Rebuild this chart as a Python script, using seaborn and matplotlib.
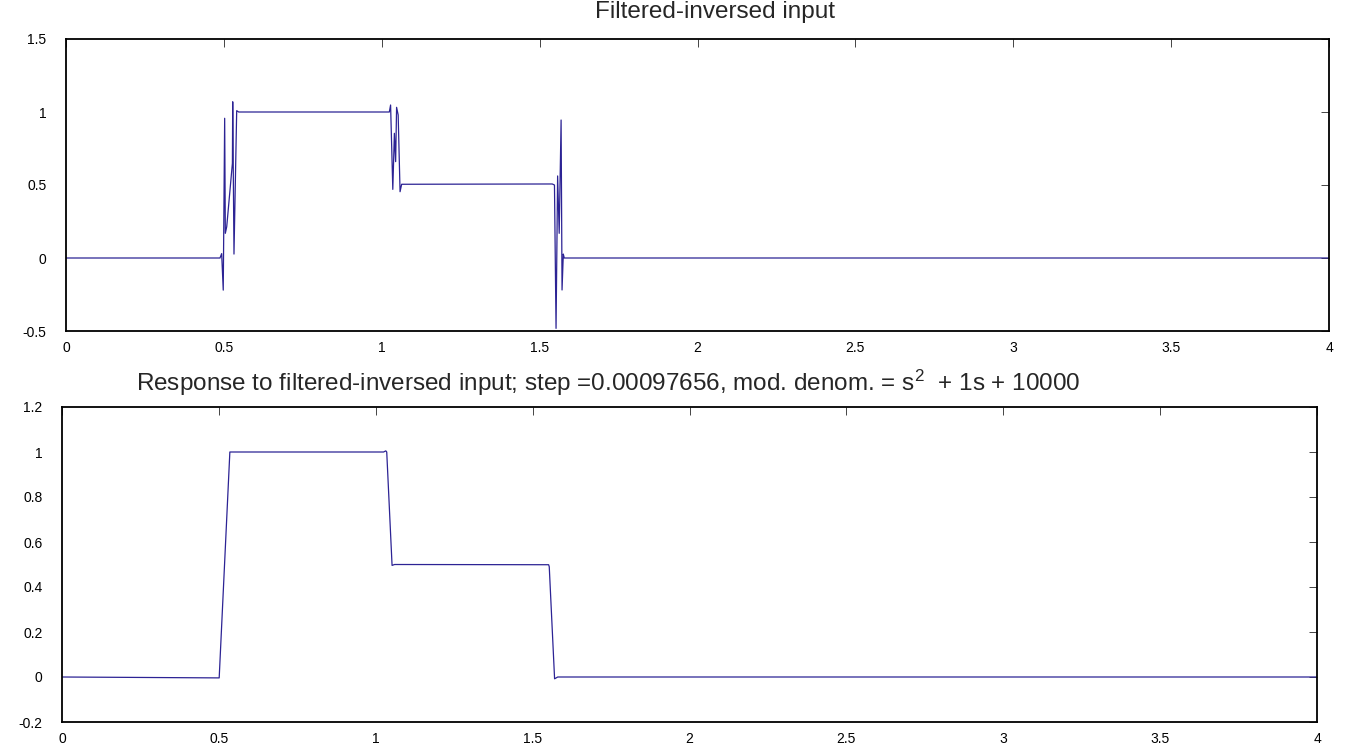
import numpy as np
import pandas as pd
import matplotlib
matplotlib.use('Agg')
import matplotlib.pyplot as plt
import seaborn as sns

# Top panel: filtered-inversed input (breakpoints)
t_input = [0.0, 0.4877, 0.493, 0.498, 0.5025, 0.5046, 0.509, 0.527, 0.528, 0.532,
           0.5406, 0.547, 1.024, 1.028, 1.035, 1.040, 1.044, 1.047, 1.052, 1.058,
           1.063, 1.540, 1.547, 1.552, 1.557, 1.562, 1.568, 1.571, 1.575, 1.578, 4.0]
u_input = [0.0, 0.0, 0.03, -0.22, 0.957, 0.169, 0.214, 0.649, 1.07, 0.027,
           1.009, 1.0, 1.0, 1.048, 0.47, 0.854, 0.66, 1.032, 0.98, 0.454,
           0.505, 0.507, 0.5, -0.482, 0.562, 0.169, 0.945, -0.219, 0.027, 0.0, 0.0]

# Bottom panel: response of the system
t_resp = [0.0, 0.501, 0.535, 1.025, 1.032, 1.035, 1.052, 1.060, 1.551, 1.553, 1.570, 1.580, 4.0]
y_resp = [0.0, -0.004, 1.0, 1.0, 1.005, 1.0, 0.496, 0.5, 0.499, 0.49, -0.008, 0.0, 0.0]

top_title = 'Filtered-inversed input'
bottom_title = 'Response to filtered-inversed input; step =0.00097656, mod. denom. = s$^2$  + 1s + 10000'

x_ticks = [0, 0.5, 1, 1.5, 2, 2.5, 3, 3.5, 4]
top_yticks = [-0.5, 0, 0.5, 1, 1.5]
bottom_yticks = [-0.2, 0, 0.2, 0.4, 0.6, 0.8, 1, 1.2]

sns.set_style('white')
plt.rcParams['font.family'] = ['Liberation Sans', 'DejaVu Sans']
plt.rcParams['mathtext.fontset'] = 'custom'
plt.rcParams['mathtext.rm'] = 'Liberation Sans'
plt.rcParams['mathtext.it'] = 'Liberation Sans'
plt.rcParams['axes.unicode_minus'] = False

line_color = '#2c2394'

fig = plt.figure(figsize=(13.54, 7.53), dpi=100)
ax1 = fig.add_axes([66 / 1354, (753 - 331) / 753, 1263 / 1354, 292 / 753])
ax2 = fig.add_axes([62 / 1354, (753 - 722) / 753, 1255 / 1354, 315 / 753])

df_in = pd.DataFrame({'t': t_input, 'u': u_input})
df_out = pd.DataFrame({'t': t_resp, 'y': y_resp})

sns.lineplot(data=df_in, x='t', y='u', ax=ax1, color=line_color, linewidth=0.9,
             sort=False, estimator=None)
sns.lineplot(data=df_out, x='t', y='y', ax=ax2, color=line_color, linewidth=0.9,
             sort=False, estimator=None)

for ax, yt, ylim in [(ax1, top_yticks, (-0.5, 1.5)), (ax2, bottom_yticks, (-0.2, 1.2))]:
    ax.set_xlim(0, 4)
    ax.set_ylim(*ylim)
    ax.set_xticks(x_ticks)
    ax.set_xticklabels(['%g' % v for v in x_ticks])
    ax.set_yticks(yt)
    ax.set_yticklabels(['%g' % v for v in yt])
    ax.set_xlabel('')
    ax.set_ylabel('')
    ax.tick_params(direction='in', top=True, right=True, length=6, width=0.7,
                   color='#444444', labelsize=10, labelcolor='black')
    ax.tick_params(axis='x', pad=7)
    ax.tick_params(axis='y', pad=14)
    for s in ax.spines.values():
        s.set_visible(True)
        s.set_color('black')
        s.set_linewidth(1.3)

ax1.text(0.514, 1.0 + 21 / 292, top_title, transform=ax1.transAxes,
         ha='center', va='baseline', fontsize=17.5)
ax2.text(0.435, 1.0 + 16 / 315, bottom_title, transform=ax2.transAxes,
         ha='center', va='baseline', fontsize=17.5)

fig.savefig('out.png', dpi=100)
